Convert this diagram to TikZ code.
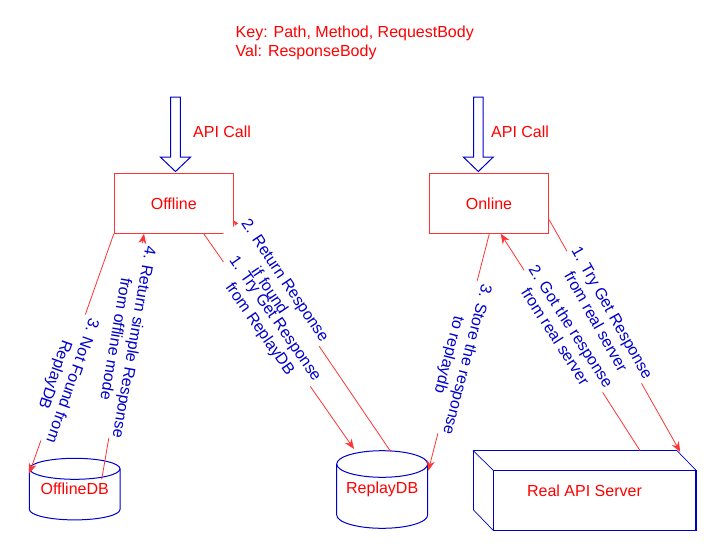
\documentclass[tikz,border=0pt]{standalone}
\usepackage{fontspec}
\setmainfont{Liberation Sans}
\usetikzlibrary{arrows.meta,calc}
\definecolor{lred}{HTML}{FF3333}
\definecolor{tred}{HTML}{FF0000}
\definecolor{dblue}{HTML}{0000CC}
\newcommand\dbcyl[5]{%
  \fill[white] (#1-#4,#2) -- (#1-#4,#3) arc[start angle=180,end angle=360,x radius=#4,y radius=#5] -- (#1+#4,#2) arc[start angle=0,end angle=180,x radius=#4,y radius=#5] -- cycle;
  \draw[dbline] (#1,#2) ellipse[x radius=#4,y radius=#5];
  \draw[dbline] (#1-#4,#2) -- (#1-#4,#3) arc[start angle=180,end angle=360,x radius=#4,y radius=#5] -- (#1+#4,#2);
}
\newcommand\twoph[2]{\phantom{#1}\\\phantom{#2}}
\begin{document}
\begin{tikzpicture}[x=1pt,y=1pt,
  txt/.style={text=tred, font=\fontsize{16}{19}\selectfont, inner sep=0pt},
  box/.style={txt, draw=lred, line width=1pt, minimum width=119pt, minimum height=60pt},
  ghost/.style={txt},
  conn/.style={draw=lred, line width=0.8pt, -{Stealth[length=10pt,width=8pt]}},
  lbl/.style={inner sep=1.5pt, text=dblue, align=center, font=\fontsize{16}{18.5}\selectfont},
  lblbg/.style={lbl, fill=white},
  dbline/.style={draw=dblue, line width=1pt},
  srvline/.style={draw=dblue, line width=1.2pt},
  srvthin/.style={draw=dblue, line width=0.7pt},
  hollow/.style={draw=dblue, line width=1pt, fill=white, line join=miter}]
\useasboundingbox (0,0) rectangle (728,-551);

% key text
\node[txt, anchor=north west, align=left] (key) at (235.5,-26) {Key: Path, Method, RequestBody\\Val: ResponseBody};

% main boxes
\node[box] (off) at (173.8,-203.3) {Offline};
\node[box, minimum width=119.4pt] (on) at (489,-203.3) {Online};

% API call arrows
\draw[hollow] (170.7,-97) -- (180.3,-97) -- (180.3,-157) -- (190.7,-157) -- (175.5,-171.5) -- (160.3,-157) -- (170.7,-157) -- cycle;
\draw[hollow] (473.7,-97) -- (483.0,-97) -- (483.0,-157) -- (493.3,-157) -- (478.3,-171.5) -- (463.3,-157) -- (473.7,-157) -- cycle;
\node[txt, anchor=base west] (api1) at (193,-137) {API Call};
\node[txt, anchor=base west] (api2) at (491,-137) {API Call};

% databases
\dbcyl{74.7}{-468.8}{-509.4}{45.3}{10.5}
\node[ghost, minimum width=90.6pt, minimum height=61.7pt] (odb) at (74.7,-489.2) {OfflineDB};
\dbcyl{382.2}{-464}{-515}{45.5}{13.3}
\node[ghost, minimum width=91pt, minimum height=77.6pt] (rdb) at (382.2,-489.6) {ReplayDB};

% real server
\node[ghost, minimum width=222.4pt, minimum height=79.3pt] (srv) at (584.5,-490.4) {Real API Server};
\draw[srvline] ($(srv.south west)+(20,0)$) rectangle ($(srv.north east)+(0,-19.6)$);
\draw[srvline] ($(srv.south west)+(0,20.7)$) -- (srv.north west) -- ($(srv.north east)+(-19,0)$);
\draw[srvthin] (srv.north west) -- ($(srv.north west)+(20,-19.6)$);
\draw[srvthin] ($(srv.north east)+(-19,0)$) -- ($(srv.north east)+(0,-19.6)$);
\draw[srvthin] ($(srv.south west)+(0,20.7)$) -- ($(srv.south west)+(20,0)$);

% connector end points
\coordinate (c1a) at ($(off.south)+(30,0)$);
\coordinate (c1b) at ($(rdb.center)+(-28.2,40.6)$);
\coordinate (c2a) at ($(rdb.center)+(8.8,37.6)$);
\coordinate (c2b) at ($(off.south east)+(0,13.3)$);
\coordinate (c3a) at (off.south west);
\coordinate (c3b) at ($(odb.center)+(-45.4,15.9)$);
\coordinate (c4a) at ($(odb.center)+(27,9.8)$);
\coordinate (c4b) at ($(off.south)+(-29.8,0)$);
\coordinate (d1a) at ($(on.south east)+(0,14)$);
\coordinate (d1b) at ($(srv.north east)+(-15.7,-1.3)$);
\coordinate (d2a) at ($(srv.north)+(55.5,0)$);
\coordinate (d2b) at ($(on.south)+(11.7,0)$);
\coordinate (d3a) at ($(on.south)+(0.3,0)$);
\coordinate (d3b) at ($(rdb.center)+(46.1,18.9)$);

% connectors with blank label backgrounds
\draw[conn] (c1a) -- node[lblbg, pos=0.42, rotate=-55.1] {\twoph{1. Try Get Response}{from ReplayDB}} (c1b);
\draw[conn] (c2a) -- node[lblbg, pos=0.72, rotate=-56.1] {\twoph{2. Return Response}{if found}} (c2b);
\draw[conn] (c3a) -- node[lblbg, pos=0.6, rotate=-109.5] {\twoph{3. Not Found from}{ReplayDB}} (c3b);
\draw[conn] (c4a) -- node[lblbg, pos=0.565, rotate=-99.8] {\twoph{4. Return simple Response}{from offline mode}} (c4b);
\draw[conn] (d1a) -- node[lblbg, pos=0.42, rotate=-60.6] {\twoph{1. Try Get Response}{from real server}} (d1b);
\draw[conn] (d2a) -- node[lblbg, pos=0.55, rotate=-57.3] {\twoph{2. Got the response}{from real server}} (d2b);
\draw[conn] (d3a) -- node[lblbg, pos=0.52, rotate=-104.45] {\twoph{3. Store the response}{to replaydb}} (d3b);

% label texts on top
\path (c1a) -- node[lbl, pos=0.42, rotate=-55.1] (l1) {1. Try Get Response\\from ReplayDB} (c1b);
\path (c2a) -- node[lbl, pos=0.72, rotate=-56.1] (l2) {2. Return Response\\if found} (c2b);
\path (c3a) -- node[lbl, pos=0.6, rotate=-109.5] (l3) {3. Not Found from\\ReplayDB} (c3b);
\path (c4a) -- node[lbl, pos=0.565, rotate=-99.8] (l4) {4. Return simple Response\\from offline mode} (c4b);
\path (d1a) -- node[lbl, pos=0.42, rotate=-60.6] (m1) {1. Try Get Response\\from real server} (d1b);
\path (d2a) -- node[lbl, pos=0.55, rotate=-57.3] (m2) {2. Got the response\\from real server} (d2b);
\path (d3a) -- node[lbl, pos=0.52, rotate=-104.45] (m3) {3. Store the response\\to replaydb} (d3b);
\end{tikzpicture}
\end{document}
